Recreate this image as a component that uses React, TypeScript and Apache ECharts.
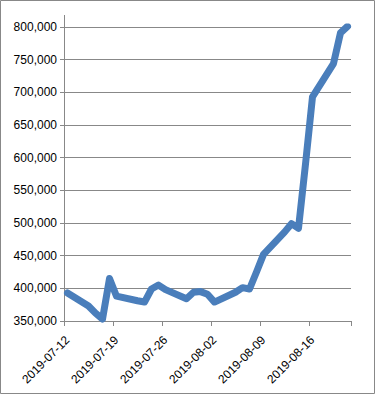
import React, { useEffect, useRef } from "react";
import * as echarts from "echarts";

// Trading-day closes
const dates: string[] = [
  "2019-07-12", "2019-07-15", "2019-07-16", "2019-07-17", "2019-07-18", "2019-07-19",
  "2019-07-22", "2019-07-23", "2019-07-24", "2019-07-25", "2019-07-26",
  "2019-07-29", "2019-07-30", "2019-07-31", "2019-08-01", "2019-08-02",
  "2019-08-05", "2019-08-06", "2019-08-07", "2019-08-08", "2019-08-09",
  "2019-08-12", "2019-08-13", "2019-08-14", "2019-08-15", "2019-08-16",
  "2019-08-19", "2019-08-20", "2019-08-21",
];
const values: number[] = [
  393000, 373000, 362000, 353000, 415000, 388000,
  381000, 379000, 399000, 405000, 398000,
  384000, 394000, 395000, 391000, 379000,
  394000, 401000, 399000, 425000, 452000,
  486000, 499000, 492000, 590000, 693000,
  744000, 791000, 801000,
];
const axisStart = "2019-07-12";
const axisEnd = "2019-08-21";
const yMin = 350000;
const yMax = 800000;
const yStep = 50000;

function dayRange(a: string, b: string): string[] {
  const out: string[] = [];
  const d = new Date(a + "T00:00:00Z");
  const e = new Date(b + "T00:00:00Z");
  while (d.getTime() <= e.getTime()) {
    out.push(d.toISOString().slice(0, 10));
    d.setUTCDate(d.getUTCDate() + 1);
  }
  return out;
}

export default function App() {
  const ref = useRef<HTMLDivElement>(null);
  useEffect(() => {
    document.body.style.margin = "0";
    if (!ref.current) return;
    const chart = echarts.init(ref.current, undefined, { renderer: "svg" });
    const cats = dayRange(axisStart, axisEnd);
    const font = "Liberation Sans";
    chart.setOption({
      animation: false,
      backgroundColor: "#ffffff",
      grid: { left: 64, right: 24, top: 27, bottom: 73, containLabel: false },
      graphic: [
        {
          type: "rect",
          shape: { x: 0.5, y: 0.5, width: 374, height: 393 },
          style: { fill: "none", stroke: "#888888", lineWidth: 1 },
          silent: true,
        },
        {
          type: "line",
          shape: { x1: 64.5, y1: 15, x2: 64.5, y2: 27 },
          style: { stroke: "#888888", lineWidth: 1 },
          silent: true,
        },
      ],
      xAxis: {
        type: "category",
        data: cats,
        boundaryGap: true,
        axisLine: { show: true, lineStyle: { color: "#888888", width: 1 } },
        axisTick: { show: true, interval: 6, length: 5, alignWithLabel: false, lineStyle: { color: "#888888" } },
        axisLabel: {
          interval: 6,
          rotate: 45,
          margin: 17,
          color: "#000000",
          fontFamily: font,
          fontSize: 12,
        },
        splitLine: { show: false },
      },
      yAxis: {
        type: "value",
        min: yMin,
        max: yMax,
        interval: yStep,
        axisLine: { show: true, lineStyle: { color: "#888888", width: 1 } },
        axisTick: { show: true, length: 4, lineStyle: { color: "#888888" } },
        axisLabel: {
          margin: 7,
          color: "#000000",
          fontFamily: font,
          fontSize: 12,
          formatter: (v: number) => v.toLocaleString("en-US"),
        },
        splitLine: { show: true, lineStyle: { color: "#888888", width: 1 } },
      },
      series: [
        {
          type: "line",
          data: dates.map((d, i) => [d, values[i]]),
          showSymbol: false,
          symbol: "none",
          lineStyle: { color: "#4a7ebb", width: 7, cap: "round", join: "round" },
          itemStyle: { color: "#4a7ebb" },
        },
      ],
    });
    return () => chart.dispose();
  }, []);
  return <div ref={ref} style={{ width: 375, height: 394 }} />;
}
